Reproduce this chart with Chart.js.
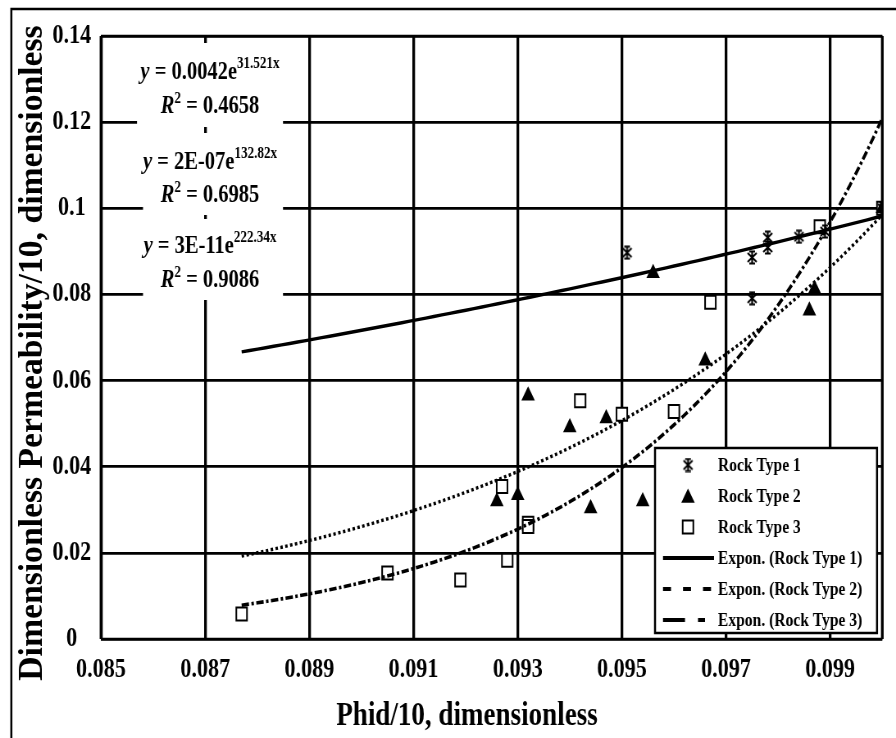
<!DOCTYPE html>
<html>
<head>
<meta charset="utf-8">
<title>Dimensionless permeability vs Phid</title>
<script src="https://cdn.jsdelivr.net/npm/chart.js@4.4.1/dist/chart.umd.min.js"></script>
<style>
  html, body { margin: 0; padding: 0; background: #fff; overflow: hidden; }
  /* the figure uses a narrow Times face, so the canvas is drawn wide and squeezed */
  #wrap { width: 1093px; height: 738px; transform: scaleX(0.81976); transform-origin: 0 0; }
</style>
</head>
<body>
<div id="wrap"><canvas id="chart" width="1093" height="738" style="width:1093px;height:738px"></canvas></div>
<script>
// --- data ---
const X_TICKS = [0.085, 0.087, 0.089, 0.091, 0.093, 0.095, 0.097, 0.099];
const Y_TICKS = [0, 0.02, 0.04, 0.06, 0.08, 0.1, 0.12, 0.14];

const SERIES = ['Rock Type 1', 'Rock Type 2', 'Rock Type 3'];

const RT1_X = [0.0951, 0.0975, 0.0978, 0.0978, 0.0984, 0.0989, 0.0975, 0.1];
const RT1_Y = [0.0897, 0.0886, 0.0909, 0.0932, 0.0934, 0.0946, 0.0791, 0.1];

const RT2_X = [0.0956, 0.0987, 0.0986, 0.0966, 0.0932, 0.0940, 0.0947, 0.0926, 0.0930, 0.0944, 0.0954, 0.1];
const RT2_Y = [0.0849, 0.0812, 0.0762, 0.0646, 0.0565, 0.0491, 0.0512, 0.0319, 0.0334, 0.0303, 0.0319, 0.1];

const RT3_X = [0.0942, 0.0950, 0.0960, 0.0927, 0.0932, 0.0932, 0.0928, 0.0919, 0.0905, 0.0877, 0.0967, 0.0988, 0.1];
const RT3_Y = [0.0553, 0.0522, 0.0528, 0.0354, 0.0269, 0.0261, 0.0183, 0.0137, 0.0153, 0.0058, 0.0782, 0.0957, 0.1];

// exponential trendlines y = A * e^(B x)
const TREND_A = [0.0042, 1.68e-7, 2.67e-11];
const TREND_B = [31.521, 132.82, 222.34];
const TREND_R2 = [0.4658, 0.6985, 0.9086];
const TREND_FROM = 0.0877;
const TREND_TO = 0.1;

// --- layout helpers (screen px -> canvas px) ---
const SQ = 896 / 1093;
const px = v => v / SQ;
const SERIF = '"Liberation Serif", "Times New Roman", serif';

function pts(xs, ys) {
    return xs.map((x, i) => ({ x: x, y: ys[i] }));
}

function trendPoints(i) {
    const out = [];
    const n = 80;
    for (let k = 0; k <= n; k++) {
        const x = TREND_FROM + (TREND_TO - TREND_FROM) * k / n;
        out.push({ x: x, y: TREND_A[i] * Math.exp(TREND_B[i] * x) });
    }
    return out;
}

function coefText(a) {
    if (a >= 0.001) return String(a);
    const parts = a.toExponential(0).split('e');
    const ex = parseInt(parts[1], 10);
    return parts[0] + 'E' + (ex < 0 ? '-' : '+') + String(Math.abs(ex)).padStart(2, '0');
}

function makeAsterisk() {
    const c = document.createElement('canvas');
    c.width = 15; c.height = 15;
    const g = c.getContext('2d');
    g.strokeStyle = '#000';
    g.lineWidth = 2.2;
    g.beginPath();
    g.moveTo(7.5, 1); g.lineTo(7.5, 14);
    g.moveTo(2, 3); g.lineTo(13, 12);
    g.moveTo(13, 3); g.lineTo(2, 12);
    g.moveTo(4, 1.5); g.lineTo(11, 1.5);
    g.moveTo(4, 13.5); g.lineTo(11, 13.5);
    g.stroke();
    return c;
}
const ASTERISK = makeAsterisk();

const TRI_R = 9.5;
const SQ_R = 9.2;
const DASH_RT2 = [3, 3];
const DASH_RT3 = [9, 3, 3, 3];

function drawTriangle(ctx, x, y, r) {
    ctx.beginPath();
    ctx.moveTo(x, y - r);
    ctx.lineTo(x + r * Math.sin(2 * Math.PI / 3), y + r / 2);
    ctx.lineTo(x - r * Math.sin(2 * Math.PI / 3), y + r / 2);
    ctx.closePath();
    ctx.fillStyle = '#000';
    ctx.fill();
}

function drawSquare(ctx, x, y, r) {
    const s = r * Math.SQRT1_2;
    ctx.fillStyle = '#fff';
    ctx.fillRect(x - s, y - s, 2 * s, 2 * s);
    ctx.strokeStyle = '#000';
    ctx.lineWidth = 2;
    ctx.setLineDash([]);
    ctx.strokeRect(x - s, y - s, 2 * s, 2 * s);
}

function drawRuns(ctx, cx, y, runs) {
    let w = 0;
    runs.forEach(r => { ctx.font = r.font; r.w = ctx.measureText(r.t).width; w += r.w; });
    let x = cx - w / 2;
    ctx.textAlign = 'left';
    ctx.textBaseline = 'alphabetic';
    runs.forEach(r => { ctx.font = r.font; ctx.fillText(r.t, x, y - (r.rise || 0)); x += r.w; });
}

const F_MAIN = 'bold 25px ' + SERIF;
const F_ITAL = 'italic bold 25px ' + SERIF;
const F_SUP = 'bold 16px ' + SERIF;

// white boxes behind the trendline equations, and the text baselines
const EQ_BOXES = [[137, 43, 283, 127], [143, 133, 283, 215], [143, 219, 283, 300]];
const EQ_BASE = [[79, 113], [169, 202], [253, 287]];

const figure = {
    id: 'figure',
    beforeDatasetsDraw(chart) {
        const ctx = chart.ctx;
        ctx.save();
        EQ_BOXES.forEach(b => {
            ctx.fillStyle = '#fff';
            ctx.fillRect(px(b[0]), b[1], px(b[2]) - px(b[0]), b[3] - b[1]);
        });
        ctx.fillStyle = '#000';
        for (let i = 0; i < 3; i++) {
            drawRuns(ctx, px(210), EQ_BASE[i][0], [
                { t: 'y', font: F_ITAL },
                { t: ' = ' + coefText(TREND_A[i]) + 'e', font: F_MAIN },
                { t: String(TREND_B[i]) + 'x', font: F_SUP, rise: 11 }
            ]);
            drawRuns(ctx, px(210), EQ_BASE[i][1], [
                { t: 'R', font: F_ITAL },
                { t: '2', font: F_SUP, rise: 10 },
                { t: ' = ' + String(TREND_R2[i]), font: F_MAIN }
            ]);
        }
        ctx.restore();
    },
    afterDatasetsDraw(chart) {
        const ctx = chart.ctx;
        const a = chart.chartArea;
        ctx.save();
        // plot frame
        ctx.strokeStyle = '#000';
        ctx.setLineDash([]);
        ctx.lineWidth = 2.7;
        ctx.beginPath();
        ctx.moveTo(a.left, a.top); ctx.lineTo(a.right, a.top);
        ctx.moveTo(a.left, a.bottom); ctx.lineTo(a.right, a.bottom);
        ctx.stroke();
        ctx.lineWidth = 3.3;
        ctx.beginPath();
        ctx.moveTo(a.left, a.top); ctx.lineTo(a.left, a.bottom);
        ctx.moveTo(a.right, a.top); ctx.lineTo(a.right, a.bottom);
        ctx.stroke();

        // legend
        const lx0 = px(655), lx1 = px(877), ly0 = 448, ly1 = 633;
        ctx.fillStyle = '#fff';
        ctx.fillRect(lx0, ly0, lx1 - lx0, ly1 - ly0);
        ctx.lineWidth = 2.5;
        ctx.strokeRect(lx0, ly0, lx1 - lx0, ly1 - ly0);

        const rows = [465, 496, 527, 558, 589, 620];
        const mx = px(688);
        ctx.drawImage(ASTERISK, mx - 7.5, rows[0] - 7.5);
        drawTriangle(ctx, mx, rows[1] + 2, TRI_R);
        drawSquare(ctx, mx, rows[2], SQ_R);

        ctx.strokeStyle = '#000';
        ctx.lineWidth = 4;
        const sx0 = px(663), sx1 = px(714);
        [[], [px(8), px(12)], [px(22), px(13), px(7), px(13)]]
            .forEach((dash, k) => {
                ctx.setLineDash(dash);
                ctx.beginPath();
                ctx.moveTo(sx0, rows[3 + k]);
                ctx.lineTo(sx1, rows[3 + k]);
                ctx.stroke();
            });
        ctx.setLineDash([]);

        ctx.fillStyle = '#000';
        ctx.font = 'bold 19px ' + SERIF;
        ctx.textAlign = 'left';
        ctx.textBaseline = 'alphabetic';
        const labels = SERIES.concat(SERIES.map(s => 'Expon. (' + s + ')'));
        labels.forEach((t, k) => ctx.fillText(t, px(718), rows[k] + 6));
        ctx.restore();
    },
    afterDraw(chart) {
        const ctx = chart.ctx;
        ctx.save();
        ctx.fillStyle = '#000';
        // x axis title
        ctx.font = 'bold 33px ' + SERIF;
        ctx.textAlign = 'center';
        ctx.textBaseline = 'alphabetic';
        ctx.fillText('Phid/10, dimensionless', px(467), 725);

        // y axis title, rotated; undo the horizontal squeeze for its glyph height
        ctx.save();
        ctx.translate(px(42), 353);
        ctx.scale(1 / SQ, 0.99);
        ctx.rotate(-Math.PI / 2);
        ctx.font = 'bold 34px ' + SERIF;
        ctx.fillText('Dimensionless Permeability/10, dimensionless', 0, 0);
        ctx.restore();

        // outer figure border
        ctx.strokeStyle = '#000';
        ctx.lineWidth = 2.5;
        ctx.beginPath();
        ctx.moveTo(px(11.3), 740);
        ctx.lineTo(px(11.3), 9);
        ctx.lineTo(1100, 9);
        ctx.stroke();
        ctx.restore();
    }
};

Chart.defaults.color = '#000';

new Chart(document.getElementById('chart'), {
    type: 'scatter',
    data: {
        datasets: [
            { label: 'Expon. (Rock Type 1)', data: trendPoints(0), showLine: true, pointRadius: 0,
              borderColor: '#000', borderWidth: 3.4 },
            { label: 'Expon. (Rock Type 2)', data: trendPoints(1), showLine: true, pointRadius: 0,
              borderColor: '#000', borderWidth: 3.4, borderDash: DASH_RT2 },
            { label: 'Expon. (Rock Type 3)', data: trendPoints(2), showLine: true, pointRadius: 0,
              borderColor: '#000', borderWidth: 3.6, borderDash: DASH_RT3 },
            { label: SERIES[0], data: pts(RT1_X, RT1_Y), pointStyle: ASTERISK, pointRadius: 7 },
            { label: SERIES[1], data: pts(RT2_X, RT2_Y), pointStyle: 'triangle', pointRadius: TRI_R,
              backgroundColor: '#000', borderColor: '#000', borderWidth: 0 },
            { label: SERIES[2], data: pts(RT3_X, RT3_Y), pointStyle: 'rect', pointRadius: SQ_R,
              backgroundColor: '#fff', borderColor: '#000', borderWidth: 2 }
        ]
    },
    options: {
        responsive: false,
        devicePixelRatio: 1,
        animation: false,
        layout: { padding: { top: 36, right: 1093 - px(882.3), bottom: 0, left: 0 } },
        plugins: { legend: { display: false }, tooltip: { enabled: false } },
        scales: {
            x: {
                type: 'linear',
                min: 0.085,
                max: 0.1,
                afterBuildTicks: s => { s.ticks = X_TICKS.map(v => ({ value: v })); },
                afterFit: s => { s.height = 738 - 639; },
                ticks: {
                    padding: 15,
                    font: { family: SERIF, size: 27, weight: 'bold' },
                    callback: v => v.toFixed(3)
                },
                grid: { color: '#000', lineWidth: 3.3, drawTicks: false },
                border: { display: false }
            },
            y: {
                type: 'linear',
                min: 0,
                max: 0.14,
                afterBuildTicks: s => { s.ticks = Y_TICKS.map(v => ({ value: v })); },
                afterFit: s => { s.width = px(101); },
                ticks: {
                    padding: 12,
                    crossAlign: 'center',
                    font: { family: SERIF, size: 27, weight: 'bold' },
                    callback: v => String(v)
                },
                grid: { color: '#000', lineWidth: 2.7, drawTicks: false },
                border: { display: false }
            }
        }
    },
    plugins: [figure]
});
</script>
</body>
</html>
